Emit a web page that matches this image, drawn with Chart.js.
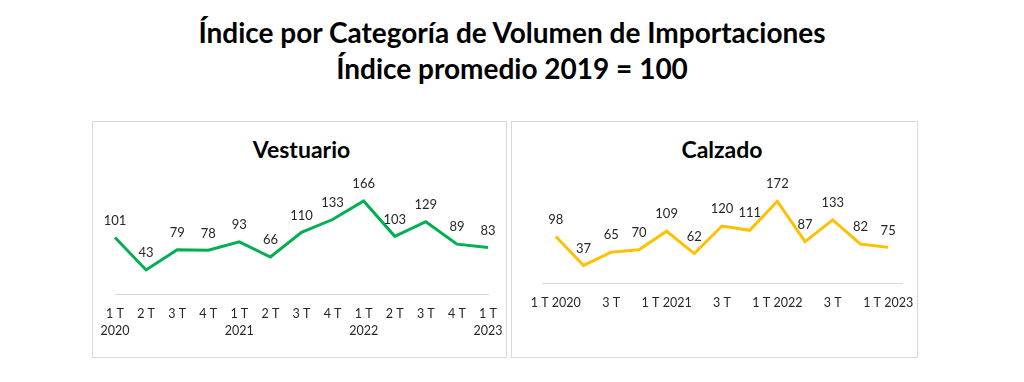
<!DOCTYPE html>
<html><head><meta charset="utf-8">
<script src="https://cdn.jsdelivr.net/npm/chart.js@4.4.0/dist/chart.umd.min.js"></script>
<style>
html,body{margin:0;padding:0;background:#fff;}
body{width:1024px;height:382px;position:relative;overflow:hidden;font-family:Lato,"Open Sans",sans-serif;}
#title{position:absolute;left:0;top:14px;width:1024px;text-align:center;font-weight:bold;font-size:28px;line-height:36px;color:#000;}
.panel{position:absolute;top:121px;height:235px;border:1px solid #d9d9d9;background:#fff;}
.ptitle{position:absolute;top:13px;font-weight:bold;font-size:23px;color:#000;text-align:center;}
canvas{position:absolute;left:0;top:0;}
</style></head>
<body>
<div id="title">Índice por Categoría de Volumen de Importaciones<br>Índice promedio 2019 = 100</div>
<div class="panel" id="p1" style="left:92px;width:413px;"><div class="ptitle" style="left:22px;width:373px;">Vestuario</div><canvas id="c1" width="413" height="235"></canvas></div>
<div class="panel" id="p2" style="left:511px;width:405px;"><div class="ptitle" style="left:30px;width:360px;">Calzado</div><canvas id="c2" width="405" height="235"></canvas></div>
<script>
const quarters = ["1 T","2 T","3 T","4 T","1 T","2 T","3 T","4 T","1 T","2 T","3 T","4 T","1 T"];
const years = ["2020","","","","2021","","","","2022","","","","2023"];
const vestuario = [101,43,79,78,93,66,110,133,166,103,129,89,83];
const calzado = [98,37,65,70,109,62,120,111,172,87,133,82,75];

const labelsLeft = quarters.map((q,i)=> years[i] ? [q, years[i]] : q);
const labelsRight = quarters.map((q,i)=> years[i] ? q + " " + years[i] : q);

const valueLabels = {
  id:'valueLabels',
  afterDatasetsDraw(chart){
    const ctx = chart.ctx;
    const meta = chart.getDatasetMeta(0);
    const data = chart.data.datasets[0].data;
    ctx.save();
    ctx.font = '13px Lato, "Open Sans", sans-serif';
    ctx.fillStyle = '#262626';
    ctx.textAlign = 'center';
    ctx.textBaseline = 'middle';
    meta.data.forEach((pt,i)=>{ ctx.fillText(String(data[i]), pt.x, pt.y - 17); });
    ctx.restore();
  }
};

function makeChart(id, labels, values, color, opts){
  return new Chart(document.getElementById(id), {
    type:'line',
    data:{labels, datasets:[{data:values, borderColor:color, borderWidth:3, pointRadius:0, tension:0, fill:false}]},
    options:{
      responsive:false, animation:false,
      layout:{padding:opts.padding},
      plugins:{legend:{display:false}, tooltip:{enabled:false}, title:{display:false}},
      scales:{
        x:{offset:opts.offset,
           grid:{display:false, drawTicks:false},
           border:{display:true, color:'#d9d9d9', width:1},
           ticks:{autoSkip:false, maxRotation:0, minRotation:0, padding:opts.tickPad, color:'#262626',
                  font:{family:'Lato, "Open Sans", sans-serif', size:12.5, lineHeight:1.4},
                  callback: opts.cb},
           afterFit:(s)=>{ s.height = opts.axisH; s.paddingLeft = 0; s.paddingRight = 0; }
        },
        y:{display:false, min:0, max:200}
      }
    },
    plugins:[valueLabels]
  });
}

makeChart('c1', labelsLeft, vestuario, '#00B050', {
  padding:{top:60,left:22,right:18,bottom:0}, offset:false, tickPad:11, axisH:63,
  cb:function(v,i){ return this.getLabelForValue(v); }
});
makeChart('c2', labelsRight, calzado, '#FFC000', {
  padding:{top:66,left:30,right:15,bottom:0}, offset:true, tickPad:11, axisH:74,
  cb:function(v,i){ return i % 2 === 0 ? this.getLabelForValue(v) : ''; }
});
</script>
</body></html>
